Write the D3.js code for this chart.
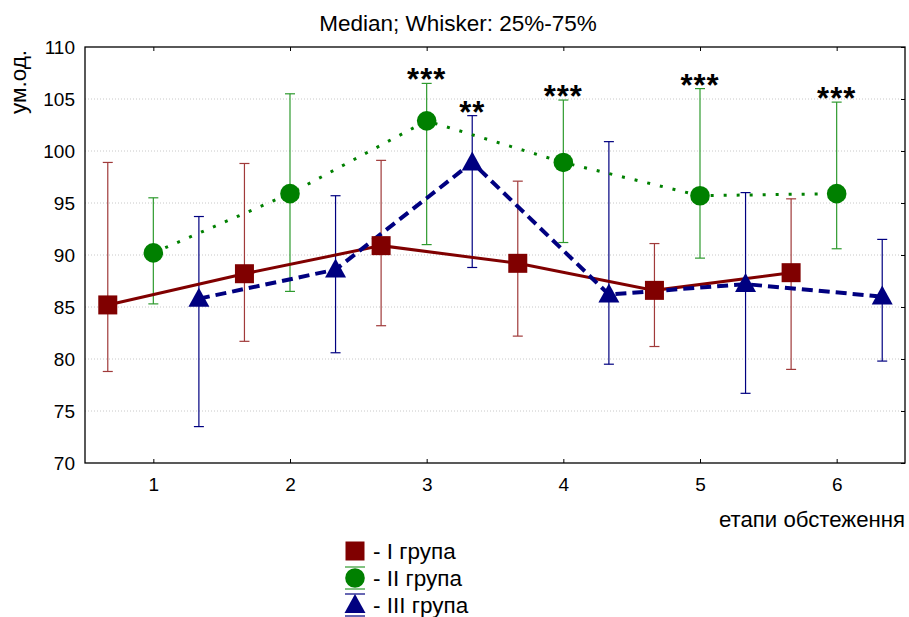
<!DOCTYPE html>
<html><head><meta charset="utf-8">
<script src="https://cdn.jsdelivr.net/npm/d3@7"></script>
<style>body{margin:0;background:#fff}svg{display:block;font-family:"Liberation Sans",Arial,sans-serif}</style>
</head><body>
<svg id="c" width="909" height="617"></svg>
<script>
const stages = [1, 2, 3, 4, 5, 6];
const yTicks = [70, 75, 80, 85, 90, 95, 100, 105, 110];
const groupNames = ["- I група", "- II група", "- III група"];

const g1Median = [85.2, 88.2, 90.9, 89.2, 86.6, 88.3];
const g1Q1     = [78.8, 81.7, 83.2, 82.2, 81.2, 79.0];
const g1Q3     = [98.9, 98.8, 99.1, 97.1, 91.1, 95.4];

const g2Median = [90.2, 95.9, 102.9, 98.9, 95.7, 95.9];
const g2Q1     = [85.3, 86.5, 91.0, 91.2, 89.7, 90.6];
const g2Q3     = [95.5, 105.5, 106.5, 104.9, 106.0, 104.7];

const g3Median = [85.8, 88.6, 98.9, 86.2, 87.2, 86.0];
const g3Q1     = [73.5, 80.6, 88.8, 79.5, 76.7, 79.8];
const g3Q3     = [93.7, 95.7, 103.4, 100.9, 96.0, 91.5];

// significance marks: group index, stage, label
const sigGroup = [1, 2, 1, 1, 1];
const sigStage = [3, 3, 4, 5, 6];
const sigLabel = ["***", "**", "***", "***", "***"];

const svg = d3.select("#c");
const M = {l: 85, r: 905, t: 47, b: 463};
const x = d3.scaleLinear().domain([0.5, 6.5]).range([M.l, M.r]);
const y = d3.scaleLinear().domain([70, 110]).range([M.b, M.t]);

const groups = [
  {med: g1Median, q1: g1Q1, q3: g1Q3, off: -1/3, line: "#800000", bar: "#a03a3a", fill: "#800000", shape: "square", dash: null, lw: 3},
  {med: g2Median, q1: g2Q1, q3: g2Q3, off: 0, line: "#008000", bar: "#2e9a2e", fill: "#008000", shape: "circle", dash: "3,10", lw: 3},
  {med: g3Median, q1: g3Q1, q3: g3Q3, off: 1/3, line: "#000080", bar: "#000080", fill: "#000080", shape: "triangle", dash: "11,6", lw: 4}
];

// grid
svg.append("g").selectAll("line").data(yTicks.filter(v => v > 70 && v < 110)).join("line")
  .attr("x1", M.l).attr("x2", M.r).attr("y1", d => y(d)).attr("y2", d => y(d))
  .attr("stroke", "#c8c8c8").attr("stroke-width", 1).attr("stroke-dasharray", "1,2");

// axes
const axL = svg.append("g").attr("transform", `translate(${M.l},0)`)
  .call(d3.axisLeft(y).tickValues(yTicks).tickSize(0).tickPadding(10));
const axB = svg.append("g").attr("transform", `translate(0,${M.b})`)
  .call(d3.axisBottom(x).tickValues(stages).tickFormat(d3.format("d")).tickSize(0).tickPadding(15));
[axL, axB].forEach(a => { a.selectAll("text").attr("font-size", 19).attr("fill", "#000").attr("font-family", "Liberation Sans, Arial, sans-serif"); a.select(".domain").remove(); });
svg.append("g").attr("transform", `translate(${M.r},0)`)
  .call(d3.axisLeft(y).tickValues(yTicks).tickSize(4).tickFormat("")).select(".domain").remove();
svg.append("g").attr("transform", `translate(0,${M.t})`)
  .call(d3.axisBottom(x).tickValues(stages).tickSize(4).tickFormat("")).select(".domain").remove();
svg.append("g").attr("transform", `translate(0,${M.b})`)
  .call(d3.axisTop(x).tickValues(stages).tickSize(4).tickFormat("")).select(".domain").remove();
svg.selectAll(".tick line").attr("stroke", "#000");
svg.append("rect").attr("x", M.l).attr("y", M.t).attr("width", M.r - M.l).attr("height", M.b - M.t)
  .attr("fill", "none").attr("stroke", "#000").attr("stroke-width", 1.3);

// whiskers
groups.forEach(gr => {
  const gg = svg.append("g").attr("stroke", gr.bar).attr("stroke-width", 1.2);
  stages.forEach((s, i) => {
    const cx = x(s + gr.off);
    gg.append("line").attr("x1", cx).attr("x2", cx).attr("y1", y(gr.q1[i])).attr("y2", y(gr.q3[i]));
    gg.append("line").attr("x1", cx - 5).attr("x2", cx + 5).attr("y1", y(gr.q1[i])).attr("y2", y(gr.q1[i]));
    gg.append("line").attr("x1", cx - 5).attr("x2", cx + 5).attr("y1", y(gr.q3[i])).attr("y2", y(gr.q3[i]));
  });
});

// lines
groups.forEach(gr => {
  const ln = d3.line().x((d, i) => x(stages[i] + gr.off)).y(d => y(d));
  const p = svg.append("path").datum(gr.med).attr("d", ln).attr("fill", "none")
    .attr("stroke", gr.line).attr("stroke-width", gr.lw);
  if (gr.dash) p.attr("stroke-dasharray", gr.dash);
});

function marker(sel, shape, fill) {
  if (shape === "square") sel.append("rect").attr("x", -9.5).attr("y", -9.5).attr("width", 19).attr("height", 19).attr("fill", fill);
  else if (shape === "circle") sel.append("circle").attr("r", 9.8).attr("fill", fill);
  else sel.append("path").attr("d", "M0,-11L10.5,8L-10.5,8Z").attr("fill", fill);
}

groups.forEach(gr => {
  stages.forEach((s, i) => {
    const m = svg.append("g").attr("transform", `translate(${x(s + gr.off)},${y(gr.med[i])})`);
    marker(m, gr.shape, gr.fill);
  });
});

// significance
sigStage.forEach((s, k) => {
  const gr = groups[sigGroup[k]];
  const i = stages.indexOf(s);
  svg.append("text").attr("x", x(s + gr.off)).attr("y", y(gr.q3[i]) + 7)
    .attr("text-anchor", "middle").attr("font-size", 31).attr("font-weight", "bold").attr("letter-spacing", 1).text(sigLabel[k]);
});

// title & labels
svg.append("text").attr("x", 458).attr("y", 31).attr("text-anchor", "middle").attr("font-size", 22.5).text("Median; Whisker: 25%-75%");
svg.append("text").attr("transform", "translate(26,82) rotate(-90)").attr("text-anchor", "middle").attr("font-size", 22.5).text("ум.од.");
svg.append("text").attr("x", 905).attr("y", 527).attr("text-anchor", "end").attr("font-size", 22.2).text("етапи обстеження");

// legend
groups.forEach((gr, k) => {
  const ly = 551 + k * 27;
  const lg = svg.append("g").attr("transform", `translate(355,${ly})`);
  if (k > 0) {
    lg.append("line").attr("x1", -10).attr("x2", 10).attr("y1", -11).attr("y2", -11).attr("stroke", gr.bar).attr("stroke-width", 1.2);
    lg.append("line").attr("x1", -10).attr("x2", 10).attr("y1", 11).attr("y2", 11).attr("stroke", gr.bar).attr("stroke-width", 1.2);
  }
  marker(lg, gr.shape, gr.fill);
  svg.append("text").attr("x", 373).attr("y", ly + 8).attr("font-size", 22.5).text(groupNames[k]);
});
</script>
</body></html>
